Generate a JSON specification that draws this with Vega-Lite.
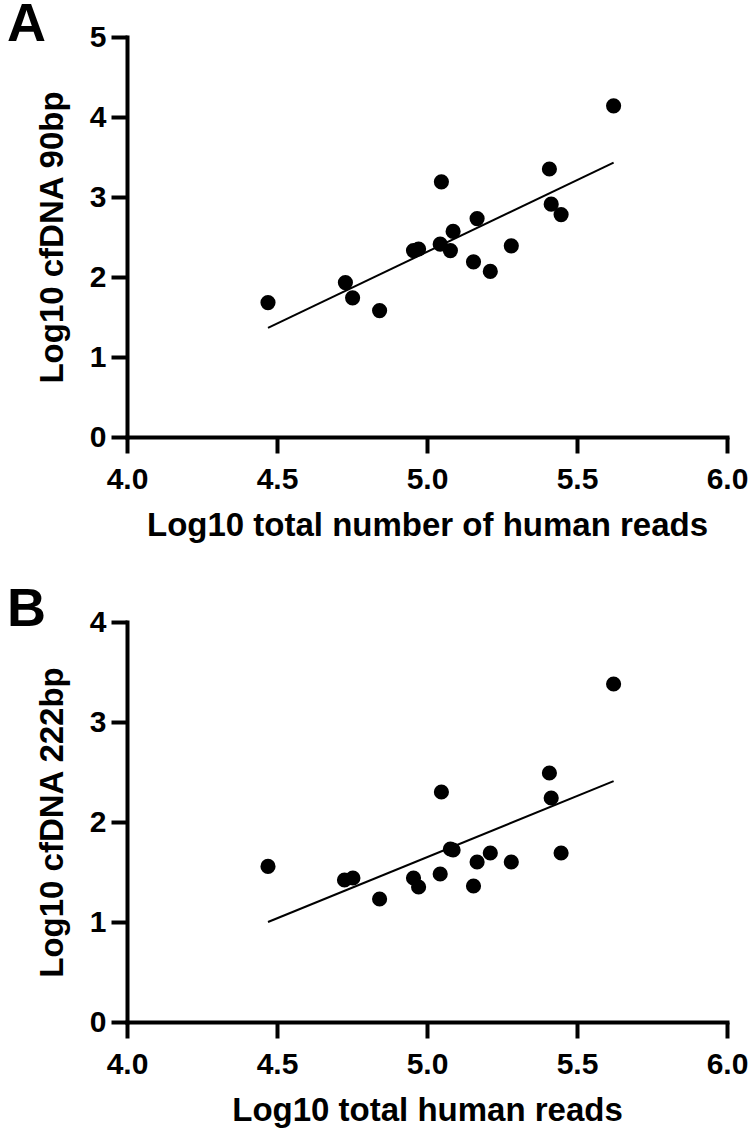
{
  "$schema": "https://vega.github.io/schema/vega-lite/v6.json",
  "background": "white",
  "padding": {"left": 7, "top": -2, "right": 5, "bottom": 5},
  "datasets": {
    "panelA": [
      {"x": 4.470, "y": 1.68}, {"x": 4.728, "y": 1.93}, {"x": 4.752, "y": 1.74},
      {"x": 4.842, "y": 1.58}, {"x": 4.955, "y": 2.33}, {"x": 4.972, "y": 2.35},
      {"x": 5.048, "y": 3.19}, {"x": 5.044, "y": 2.41}, {"x": 5.078, "y": 2.33},
      {"x": 5.087, "y": 2.57}, {"x": 5.167, "y": 2.73}, {"x": 5.155, "y": 2.19},
      {"x": 5.211, "y": 2.07}, {"x": 5.281, "y": 2.39}, {"x": 5.622, "y": 4.14},
      {"x": 5.408, "y": 3.35}, {"x": 5.414, "y": 2.91}, {"x": 5.447, "y": 2.78}
    ],
    "panelB": [
      {"x": 4.470, "y": 1.556}, {"x": 4.725, "y": 1.42}, {"x": 4.753, "y": 1.44},
      {"x": 4.842, "y": 1.23}, {"x": 4.955, "y": 1.44}, {"x": 4.972, "y": 1.35},
      {"x": 5.048, "y": 2.30}, {"x": 5.044, "y": 1.48}, {"x": 5.078, "y": 1.73},
      {"x": 5.087, "y": 1.72}, {"x": 5.167, "y": 1.60}, {"x": 5.155, "y": 1.36},
      {"x": 5.211, "y": 1.69}, {"x": 5.281, "y": 1.60}, {"x": 5.622, "y": 3.38},
      {"x": 5.408, "y": 2.49}, {"x": 5.414, "y": 2.24}, {"x": 5.447, "y": 1.69}
    ]
  },
  "config": {
    "view": {"stroke": null},
    "font": "Liberation Sans",
    "axis": {
      "grid": false,
      "domainColor": "black", "domainWidth": 4, "domainCap": "square",
      "tickColor": "black", "tickWidth": 4, "tickSize": 16,
      "labelFont": "Liberation Sans", "labelFontSize": 30, "labelFontWeight": "bold", "labelColor": "black",
      "titleFont": "Liberation Sans", "titleFontSize": 33, "titleFontWeight": "bold", "titleColor": "black"
    },
    "title": {
      "font": "Liberation Sans", "fontSize": 54, "fontWeight": "bold", "color": "black",
      "anchor": "start", "frame": "group", "dx": -120, "baseline": "alphabetic", "offset": 0, "dy": 34
    }
  },
  "bounds": "flush",
  "spacing": 185,
  "vconcat": [
    {
      "title": {"text": "A"},
      "width": 600, "height": 400,
      "data": {"name": "panelA"},
      "layer": [
        {
          "mark": {"type": "circle", "size": 230, "color": "black", "opacity": 1},
          "encoding": {
            "x": {"field": "x", "type": "quantitative",
                  "scale": {"domain": [4, 6], "nice": false, "zero": false},
                  "axis": {"values": [4, 4.5, 5, 5.5, 6], "format": ".1f", "labelFlush": false, "labelPadding": 11, "titlePadding": 15,
                           "title": "Log10 total number of human reads"}},
            "y": {"field": "y", "type": "quantitative",
                  "scale": {"domain": [0, 5], "nice": false},
                  "axis": {"values": [0, 1, 2, 3, 4, 5], "format": "d", "labelFlush": false, "labelPadding": 5, "titlePadding": 20,
                           "title": "Log10 cfDNA 90bp"}}
          }
        },
        {
          "transform": [{"regression": "y", "on": "x"}],
          "mark": {"type": "line", "color": "black", "strokeWidth": 2},
          "encoding": {
            "x": {"field": "x", "type": "quantitative"},
            "y": {"field": "y", "type": "quantitative"}
          }
        }
      ]
    },
    {
      "title": {"text": "B"},
      "width": 600, "height": 400,
      "data": {"name": "panelB"},
      "layer": [
        {
          "mark": {"type": "circle", "size": 230, "color": "black", "opacity": 1},
          "encoding": {
            "x": {"field": "x", "type": "quantitative",
                  "scale": {"domain": [4, 6], "nice": false, "zero": false},
                  "axis": {"values": [4, 4.5, 5, 5.5, 6], "format": ".1f", "labelFlush": false, "labelPadding": 11, "titlePadding": 15,
                           "title": "Log10 total human reads"}},
            "y": {"field": "y", "type": "quantitative",
                  "scale": {"domain": [0, 4], "nice": false},
                  "axis": {"values": [0, 1, 2, 3, 4], "format": "d", "labelFlush": false, "labelPadding": 5, "titlePadding": 20,
                           "title": "Log10 cfDNA 222bp"}}
          }
        },
        {
          "transform": [{"regression": "y", "on": "x"}],
          "mark": {"type": "line", "color": "black", "strokeWidth": 2},
          "encoding": {
            "x": {"field": "x", "type": "quantitative"},
            "y": {"field": "y", "type": "quantitative"}
          }
        }
      ]
    }
  ]
}
